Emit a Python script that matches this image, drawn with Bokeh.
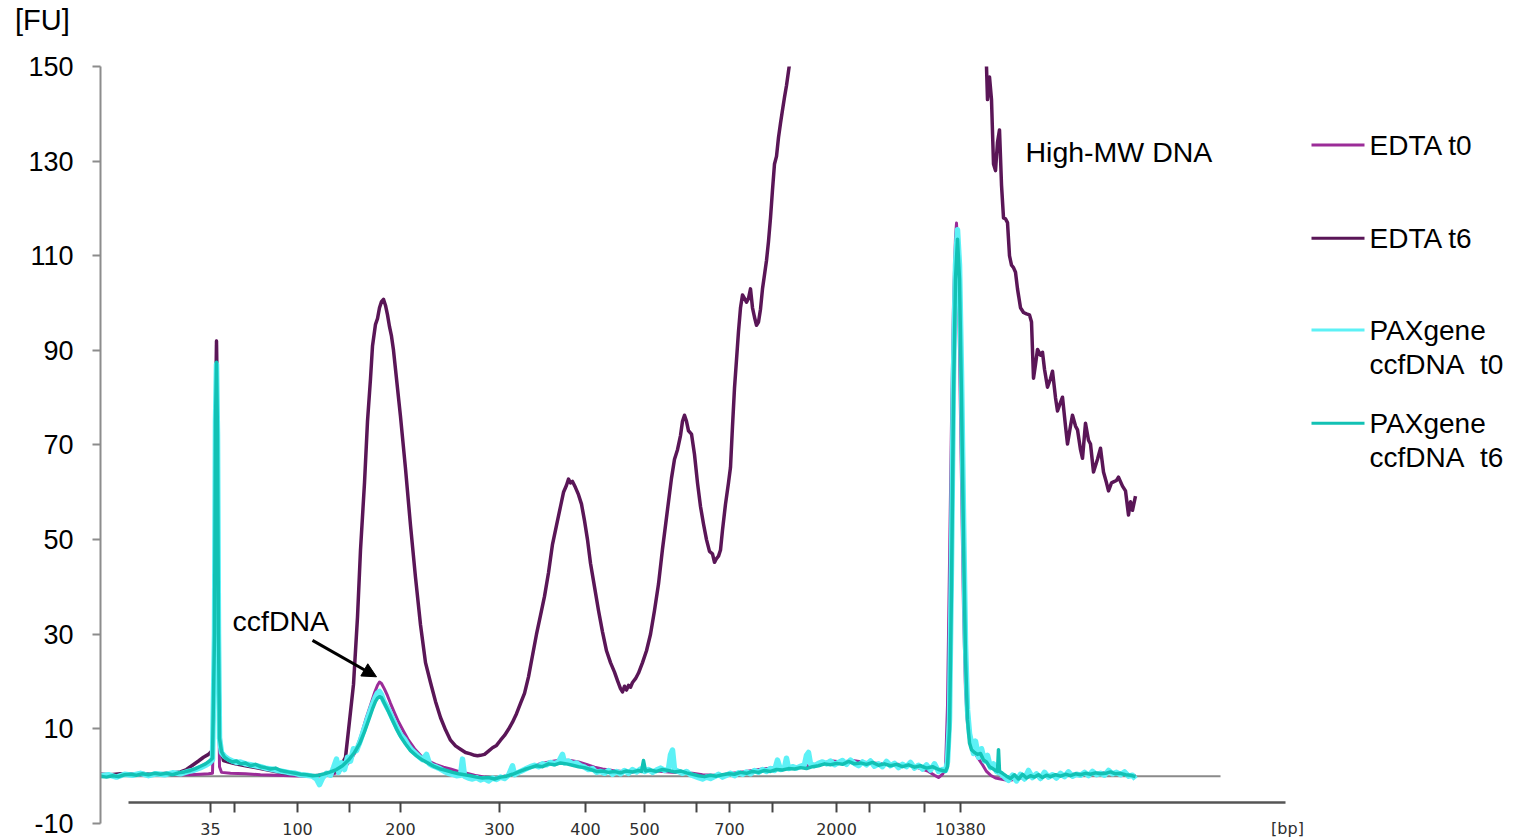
from bokeh.plotting import figure
from bokeh.layouts import column
from bokeh.models import FixedTicker, Label, Arrow, NormalHead, Div
from bokeh.core.properties import value
from bokeh.embed import file_html
from bokeh.resources import INLINE

FONT = "Liberation Sans"

# ---------------- data (x = migration scan position, y = fluorescence [FU]) ----------------
edta_t0_x = [100, 115, 130, 145, 160, 175, 190, 200, 208, 212, 214, 215, 216, 217, 218, 219, 221, 230, 245, 260,
             275, 290, 305, 320, 330, 338, 344, 350, 355, 360, 365, 370, 374, 377, 379, 381, 384, 387, 390, 394,
             398, 403, 408, 414, 420, 427, 435, 443, 450, 458, 466, 474, 482, 490, 498, 506, 514, 522, 530, 538,
             546, 554, 562, 570, 578, 586, 594, 602, 612, 622, 632, 642, 652, 662, 672, 682, 692, 702, 712, 722,
             732, 742, 752, 762, 772, 782, 792, 802, 812, 822, 832, 842, 852, 862, 872, 882, 892, 902, 912, 920,
             928, 934, 938, 942, 945, 947, 949, 951, 953, 955, 956, 957, 959, 961, 963, 965, 967, 970, 974, 978,
             982, 986, 990, 995, 1000, 1008, 1016, 1025, 1035, 1050, 1065, 1080, 1095, 1110, 1122, 1135]
edta_t0_y = [0.4, 0.3, 0.5, 0.2, 0.4, 0.3, 0.3, 0.4, 0.5, 0.6, 20, 70, 92, 70, 20, 2, 0.8, 0.6, 0.5, 0.3,
             0.2, 0.1, 0.0, 0.1, 0.2, 0.9, 1.8, 3.3, 5.2, 8.2, 11.8, 15, 17.6, 19.2, 19.9, 19.6, 18.4, 17, 15.4, 13.4,
             11.5, 9.5, 7.6, 5.8, 4.4, 3.3, 2.5, 1.9, 1.5, 1.0, 0.6, 0.2, -0.1, -0.3, -0.3, 0.1, 0.6, 1.3, 2.0, 2.5,
             2.9, 3.2, 3.4, 3.3, 3.0, 2.5, 1.9, 1.5, 1.2, 1.0, 0.9, 1.0, 1.2, 1.0, 0.8, 0.8, 0.6, 0.3, 0.2, 0.3,
             0.6, 0.9, 1.2, 1.5, 1.7, 1.6, 1.8, 2.1, 2.4, 2.8, 3.2, 3.0, 3.3, 3.0, 2.8, 2.6, 2.6, 2.4, 2.2, 1.6,
             1.0, 0.2, -0.3, 0.4, 1.5, 15, 45, 75, 100, 114, 116.9, 112, 90, 62, 35, 18, 11, 7.0, 5.0, 3.7,
             2.4, 1.0, 0.2, -0.4, -0.6, -0.9, -0.6, -0.2, 0.0, 0.2, 0.3, 0.5, 0.6, 0.8, 0.6, 0.1]

edta_t6_x = [100, 110, 120, 130, 140, 150, 160, 170, 180, 186, 192, 198, 203, 208, 212, 214, 215, 216, 217, 218,
             220, 223, 228, 235, 245, 255, 265, 275, 285, 295, 305, 315, 325, 333, 340, 345, 348, 353, 357, 360,
             364, 367, 370, 372, 375, 377, 379, 381, 383, 385, 387, 389, 391, 393, 396, 400, 405, 410, 415, 420,
             425, 430, 435, 440, 445, 450, 455, 460, 465, 470, 474, 477, 480, 484, 488, 492, 496, 500, 504, 508,
             512, 516, 520, 524, 528, 532, 536, 540, 544, 548, 552, 556, 560, 563, 566, 568, 570, 572, 575, 578,
             581, 584, 587, 590, 594, 598, 602, 606, 610, 614, 617, 620, 622, 624, 626, 628, 630, 632, 635, 638,
             642, 646, 650, 654, 658, 662, 665, 668, 671, 674, 677, 680, 682, 684, 686, 688, 691, 694, 697, 700,
             703, 706, 709, 712, 714, 716, 718, 720, 722, 725, 728, 730, 732, 734, 736, 738, 740, 742, 744, 746,
             748, 750, 752, 754, 756, 758, 760, 762, 764, 766, 768, 770, 772, 774, 776, 778, 780, 782, 784, 786,
             788, 790, 795, 810, 840, 880, 920, 955, 975, 984, 986, 987, 989, 991, 993, 995, 997, 999, 1001, 1003,
             1005, 1007, 1009, 1011, 1013, 1015, 1017, 1020, 1023, 1026, 1029, 1031, 1033, 1035, 1037, 1040, 1042, 1044, 1047, 1050,
             1052, 1055, 1057, 1060, 1062, 1065, 1067, 1070, 1072, 1075, 1077, 1080, 1082, 1085, 1088, 1090, 1093, 1097, 1100, 1103,
             1106, 1108, 1111, 1113, 1116, 1118, 1122, 1125, 1128, 1130, 1132, 1135]
edta_t6_y = [0.4, 0.3, 0.5, 0.3, 0.6, 0.4, 0.5, 0.6, 0.9, 1.4, 2.3, 3.2, 4.0, 4.6, 5.5, 20, 70, 92, 70, 25,
             6.0, 3.3, 3.0, 2.6, 2.2, 1.8, 1.4, 1.0, 0.6, 0.4, 0.2, 0.1, 0.3, 0.8, 2.0, 4.0, 9.7, 19.4, 33.6, 47.8,
             62, 75, 84, 90.9, 95.5, 96.7, 99, 100.3, 100.8, 99.5, 97.5, 95, 93, 90, 84, 76, 65, 53, 42, 32,
             24, 19.8, 15.8, 12.4, 9.8, 7.6, 6.4, 5.7, 5.0, 4.7, 4.4, 4.3, 4.4, 4.6, 5.3, 6.0, 6.5, 7.6, 8.6, 9.9,
             11.4, 13.2, 15.4, 17.5, 21, 25.5, 30, 34, 38, 43, 49, 53, 57, 60, 61.5, 62.8, 62, 62.3, 61, 59.5,
             57.5, 54, 50, 45, 40, 35, 30.5, 26.5, 24, 22, 20.2, 18.5, 17.8, 19, 18.2, 19.2, 18.8, 19.8, 20.6, 21.8,
             24, 26.5, 30, 35, 40.6, 48, 53, 58, 63, 67, 69, 72, 75, 76.3, 75, 73, 72.3, 68, 62, 57,
             53.3, 50, 47.5, 47, 45.2, 46, 46.5, 47.8, 52, 57.5, 62, 65.3, 74, 82, 88, 94, 99, 101.7, 101, 100.2,
             101, 103, 99, 97, 95.3, 96, 98.7, 103, 106, 109, 113, 118, 123.9, 129.4, 131, 135, 138, 140.8, 143.5, 146,
             149, 152, 160, 185, 215, 235, 225, 195, 168, 155, 150, 143, 147.8, 143, 129.4, 128, 134, 136.6, 125, 118,
             117.8, 117, 110, 108, 107.5, 106.5, 103, 99, 98, 97.7, 97.5, 96, 84.1, 87, 90.2, 89, 89.6, 86, 82.2, 84,
             85.6, 80, 77.2, 79, 80.1, 74, 70.2, 74, 76.3, 74, 73.2, 69, 67.2, 74.6, 71, 70.2, 64.3, 67, 69.3, 64.3,
             62, 60.3, 62, 62.2, 62.5, 63.2, 61.3, 60.3, 55.2, 58, 56.2, 59.2]

pax_t0_x = [100, 108, 116, 124, 132, 140, 148, 156, 164, 172, 180, 188, 194, 200, 205, 209, 212, 214, 215, 216,
            217, 218, 219, 221, 224, 228, 232, 236, 240, 245, 250, 255, 260, 265, 270, 275, 280, 285, 290, 295,
            300, 306, 312, 316, 319, 322, 326, 330, 333, 336, 338, 341, 344, 347, 350, 353, 356, 360, 364, 368,
            372, 375, 377, 379, 381, 383, 386, 389, 392, 396, 400, 404, 408, 411, 414, 418, 422, 426, 429, 432,
            436, 440, 444, 448, 452, 456, 460, 462, 464, 468, 472, 476, 480, 484, 488, 492, 496, 500, 504, 508,
            512, 514, 518, 522, 526, 530, 534, 538, 542, 546, 550, 554, 558, 562, 564, 568, 572, 576, 580, 584,
            588, 592, 596, 600, 604, 608, 612, 616, 620, 624, 628, 632, 636, 640, 644, 648, 652, 656, 660, 664,
            668, 670, 672, 674, 678, 682, 686, 690, 694, 698, 702, 706, 710, 714, 718, 722, 726, 730, 734, 738,
            742, 746, 750, 754, 758, 762, 766, 770, 774, 777, 780, 784, 786, 788, 792, 796, 800, 804, 806, 808,
            810, 814, 818, 822, 826, 830, 834, 838, 842, 846, 850, 854, 858, 862, 866, 870, 874, 878, 882, 886,
            890, 894, 898, 902, 906, 910, 914, 918, 922, 926, 930, 934, 938, 942, 945, 947, 949, 951, 953, 955,
            957, 959, 961, 963, 965, 967, 969, 971, 973, 975, 978, 981, 984, 987, 990, 993, 996, 1000, 1004, 1008,
            1012, 1016, 1020, 1024, 1028, 1032, 1036, 1040, 1044, 1048, 1052, 1056, 1060, 1064, 1068, 1072, 1076, 1080, 1084, 1088,
            1092, 1096, 1100, 1104, 1108, 1112, 1116, 1120, 1124, 1128, 1132, 1135]
pax_t0_y = [0.1, 0.3, -0.2, 0.4, 0.2, 0.6, 0.1, 0.5, 0.3, 0.7, 0.5, 1.0, 1.3, 1.8, 2.3, 2.8, 3.5, 30, 75, 87,
            72, 30, 8, 5.0, 4.2, 3.6, 3.2, 2.9, 3.0, 2.6, 2.4, 2.2, 2.0, 1.7, 1.5, 1.3, 1.1, 0.9, 0.7, 0.6,
            0.3, 0.2, 0.0, -0.6, -1.8, -0.4, 0.6, 0.2, 1.8, 3.6, 0.8, 2.8, 1.4, 4.0, 3.2, 5.8, 5.4, 7.6, 10.2, 12.8,
            15.2, 16.8, 17.6, 17.9, 17.2, 16.0, 14.8, 13.6, 12.2, 10.4, 8.8, 7.8, 6.4, 5.6, 5.0, 4.2, 3.5, 4.6, 2.6, 2.2,
            1.9, 1.5, 1.0, 0.6, 0.4, 0.1, 0.2, 3.6, 0.0, -0.4, -0.6, -0.3, -0.8, -0.5, -1.0, -0.4, -0.7, -0.2, -0.5, 0.2,
            2.2, 0.3, 0.8, 1.2, 1.6, 2.0, 2.3, 2.0, 2.6, 2.4, 2.9, 2.6, 3.0, 4.6, 2.8, 3.2, 2.6, 2.8, 2.2, 1.9,
            1.4, 1.6, 0.8, 1.0, 0.6, 1.2, 0.4, 1.0, 0.5, 1.2, 0.6, 1.4, 0.9, 1.5, 1.0, 1.4, 0.8, 1.3, 1.7, 1.2,
            1.5, 4.5, 5.5, 1.4, 1.0, 0.6, 1.0, 0.3, 0.0, -0.3, -0.6, -0.2, -0.5, -0.1, 0.4, -0.2, 0.2, 0.6, 0.1, 0.7,
            0.4, 0.9, 0.5, 1.2, 0.8, 1.4, 1.0, 1.6, 1.2, 3.4, 1.4, 1.8, 3.8, 1.6, 2.0, 1.7, 2.1, 2.4, 4.4, 5.0,
            2.6, 2.2, 2.7, 3.0, 2.6, 3.2, 2.4, 2.9, 3.3, 2.5, 3.4, 2.7, 2.2, 3.0, 2.4, 3.2, 2.1, 2.6, 2.0, 3.1,
            2.2, 2.7, 1.8, 2.5, 2.0, 2.9, 1.7, 2.3, 1.5, 2.4, 1.3, 2.6, 1.0, 1.4, 1.2, 3, 12, 45, 85, 108,
            115.5, 108, 85, 55, 28, 14, 9, 7.0, 4.8, 7.4, 4.0, 5.8, 3.2, 4.4, 1.8, 2.6, 1.0, 0.6, -0.2, -0.9,
            0.2, -1.0, 0.4, -0.6, 1.2, -0.3, 0.5, -0.5, 0.8, -0.2, 0.3, -0.4, 0.6, -0.1, 0.9, 0.0, 0.4, 0.2, 0.8, 0.1,
            1.0, 0.3, 0.6, 0.2, 1.2, 0.5, 0.8, 0.3, 0.9, 0.0, 0.2, -0.6]

pax_t6_x = [100, 106, 112, 118, 124, 130, 136, 142, 148, 154, 160, 166, 172, 178, 184, 190, 195, 200, 205, 209,
            212, 214, 215, 216, 217, 218, 219, 221, 224, 228, 232, 236, 240, 245, 250, 255, 260, 265, 270, 275,
            280, 285, 290, 295, 300, 306, 312, 318, 324, 330, 336, 342, 348, 354, 359, 364, 368, 372, 375, 377,
            379, 381, 383, 386, 389, 392, 396, 400, 405, 410, 416, 422, 428, 434, 440, 446, 452, 458, 464, 470,
            476, 482, 488, 494, 500, 506, 512, 518, 524, 530, 536, 542, 548, 554, 560, 566, 572, 578, 584, 590,
            596, 602, 608, 614, 620, 626, 632, 638, 641, 643, 645, 650, 656, 662, 668, 674, 680, 686, 692, 698,
            704, 710, 716, 722, 728, 734, 740, 746, 752, 758, 764, 770, 776, 782, 788, 794, 800, 806, 812, 818,
            824, 830, 836, 842, 848, 854, 860, 866, 872, 878, 884, 890, 896, 902, 908, 914, 920, 926, 932, 938,
            942, 945, 947, 949, 951, 953, 955, 957, 959, 961, 963, 965, 967, 969, 971, 974, 977, 980, 983, 986,
            989, 992, 995, 997, 998, 999, 1002, 1006, 1010, 1014, 1018, 1022, 1026, 1030, 1034, 1038, 1042, 1046, 1050, 1055,
            1060, 1065, 1070, 1075, 1080, 1085, 1090, 1095, 1100, 1105, 1110, 1115, 1120, 1125, 1130, 1135]
pax_t6_y = [0.0, -0.2, 0.1, -0.1, 0.3, 0.4, 0.2, 0.5, 0.3, 0.6, 0.4, 0.6, 0.3, 0.7, 0.9, 1.2, 1.6, 2.1, 2.6, 3.2,
            3.8, 30, 75, 87.5, 72, 30, 8, 5.2, 4.0, 3.4, 3.0, 3.2, 2.6, 2.8, 2.2, 2.5, 2.0, 1.8, 1.5, 1.7,
            1.2, 1.0, 0.8, 0.6, 0.4, 0.3, 0.1, 0.2, 0.5, 0.9, 1.4, 2.2, 3.4, 5.0, 6.8, 9.4, 11.8, 14.2, 15.8, 16.5,
            16.8, 16.6, 15.8, 14.5, 13.2, 11.8, 10.0, 8.4, 6.8, 5.4, 4.3, 3.4, 2.7, 2.0, 1.5, 1.2, 0.8, 0.5, 0.3, 0.1,
            -0.2, -0.4, -0.3, -0.6, -0.2, 0.0, 0.4, 0.9, 1.4, 1.8, 2.2, 2.0, 2.6, 2.4, 2.8, 2.6, 2.3, 2.0, 1.8, 1.4,
            1.0, 1.1, 0.8, 1.0, 0.7, 1.1, 0.9, 1.2, 1.0, 3.3, 1.1, 1.3, 1.0, 1.4, 1.2, 0.9, 1.1, 0.7, 0.4, 0.1,
            -0.1, 0.2, 0.0, 0.3, 0.5, 0.4, 0.8, 0.6, 1.0, 0.8, 1.2, 1.0, 1.4, 1.3, 1.6, 1.5, 1.8, 1.6, 2.0, 2.2,
            2.6, 2.4, 2.7, 2.5, 3.1, 2.6, 2.8, 2.5, 2.9, 2.3, 2.6, 2.2, 2.5, 2.0, 2.4, 1.9, 2.2, 1.7, 2.0, 1.4,
            1.2, 1.0, 2, 10, 40, 80, 105, 113.5, 105, 80, 50, 25, 12, 7, 5.6, 5.0, 4.6, 4.8, 3.4, 3.0,
            2.0, 1.6, 1.2, 1.0, 5.6, 1.0, 0.6, 0.0, -0.5, 0.3, -0.6, 0.4, -0.4, 0.1, -0.2, 0.3, -0.3, 0.2, -0.1, 0.3,
            0.0, 0.4, 0.1, 0.5, 0.3, 0.6, 0.4, 0.7, 0.5, 0.6, 0.9, 0.5, 0.6, 0.3, 0.2, -0.1]

series_names = ["EDTA t0", "EDTA t6", "PAXgene ccfDNA  t0", "PAXgene ccfDNA  t6"]
series_colors = ["#9B2C98", "#5A1657", "#5DF1F6", "#12C1B4"]
series_widths = [3, 3.5, 5.5, 3.5]

y_ticks = [-10, 10, 30, 50, 70, 90, 110, 130, 150]

bp_tick_pos = [210, 234, 297, 349, 400, 499, 585, 644, 696, 729, 772, 836, 869, 924, 960]
bp_label_pos = [210, 297, 400, 499, 585, 644, 729, 836, 960]
bp_labels = ["35", "100", "200", "300", "400", "500", "700", "2000", "10380"]

# ---------------- header strip holding the y unit "[FU]" ----------------
head = Div(text="[FU]", width=1520, height=50, margin=0,
           styles={"font-family": FONT, "font-size": "29px", "line-height": "40px",
                   "text-indent": "15px", "color": "black", "white-space": "nowrap"})

# ---------------- main figure ----------------
p = figure(width=1520, height=790, x_range=(100, 1520), y_range=(-13.6, 150),
           output_backend="svg", toolbar_location=None, x_axis_location=None,
           min_border_left=100, min_border_right=0, min_border_top=16, min_border_bottom=0,
           margin=0)
p.xgrid.visible = False
p.ygrid.visible = False
p.outline_line_color = None
p.background_fill_color = "white"
p.border_fill_color = "white"

ax = p.yaxis[0]
ax.ticker = FixedTicker(ticks=y_ticks)
ax.bounds = (-10, 150)
ax.axis_line_color = "#8c8c8c"
ax.axis_line_width = 2
ax.major_tick_line_color = "#8c8c8c"
ax.major_tick_line_width = 2
ax.major_tick_out = 8
ax.major_tick_in = 0
ax.minor_tick_line_color = None
ax.major_label_text_font = FONT
ax.major_label_text_font_size = "27px"
ax.major_label_text_color = "black"
ax.major_label_standoff = 19
ax.major_label_overrides = {-10: "-10"}

# baseline at 0 FU
p.segment(x0=[100], y0=[0], x1=[1220], y1=[0], line_color="#8a8a8a", line_width=2)

# traces
xs = [edta_t0_x, edta_t6_x, pax_t0_x, pax_t6_x]
ys = [edta_t0_y, edta_t6_y, pax_t0_y, pax_t6_y]
for i in range(4):
    p.line(xs[i], ys[i], line_color=series_colors[i], line_width=series_widths[i], line_join="round")

# bp axis (size-standard scale)
bp_y = -5.57
tick_len = 2.1
p.segment(x0=[128], y0=[bp_y], x1=[1285], y1=[bp_y], line_color="#555555", line_width=2.5)
p.segment(x0=bp_tick_pos, y0=[bp_y] * len(bp_tick_pos), x1=bp_tick_pos,
          y1=[bp_y - tick_len] * len(bp_tick_pos), line_color="#444444", line_width=2)
p.text(x=bp_label_pos, y=[-11.07] * len(bp_label_pos), text=bp_labels,
       text_font=value("DejaVu Sans"), text_font_size="16px", text_color="#2e2e2e",
       text_align="center", text_baseline="middle")
p.text(x=[1287], y=[-11.07], text=["[bp]"], text_font=value("DejaVu Sans"), text_font_size="16px",
       text_color="#2e2e2e", text_align="center", text_baseline="middle")

# annotations
p.add_layout(Label(x=232, y=32.8, text="ccfDNA", text_font=FONT, text_font_size="28.5px",
                   text_baseline="middle", text_color="black"))
p.add_layout(Arrow(x_start=312, y_start=28.7, x_end=376, y_end=21.0, line_width=3, line_color="black",
                   end=NormalHead(size=14, fill_color="black", line_color="black")))
p.add_layout(Label(x=1025, y=131.9, text="High-MW DNA", text_font=FONT, text_font_size="28.5px",
                   text_baseline="middle", text_color="black"))

# legend (drawn manually to the right)
leg_y = [133.4, 113.7, 94.3, 74.6]
leg_line1 = ["EDTA t0", "EDTA t6", "PAXgene", "PAXgene"]
leg_line2 = ["", "", "ccfDNA\u00a0\u00a0t0", "ccfDNA\u00a0\u00a0t6"]
for i in range(4):
    p.segment(x0=[1311], y0=[leg_y[i]], x1=[1364], y1=[leg_y[i]], line_color=series_colors[i], line_width=3)
    p.add_layout(Label(x=1369, y=leg_y[i], text=leg_line1[i], text_font=FONT, text_font_size="28px",
                       text_baseline="middle", text_color="black"))
    if leg_line2[i]:
        p.add_layout(Label(x=1369, y=leg_y[i] - 7.2, text=leg_line2[i], text_font=FONT, text_font_size="28px",
                           text_baseline="middle", text_color="black"))

layout = column(head, p, spacing=0, margin=0)
open("out.html", "w").write(file_html(layout, INLINE))
